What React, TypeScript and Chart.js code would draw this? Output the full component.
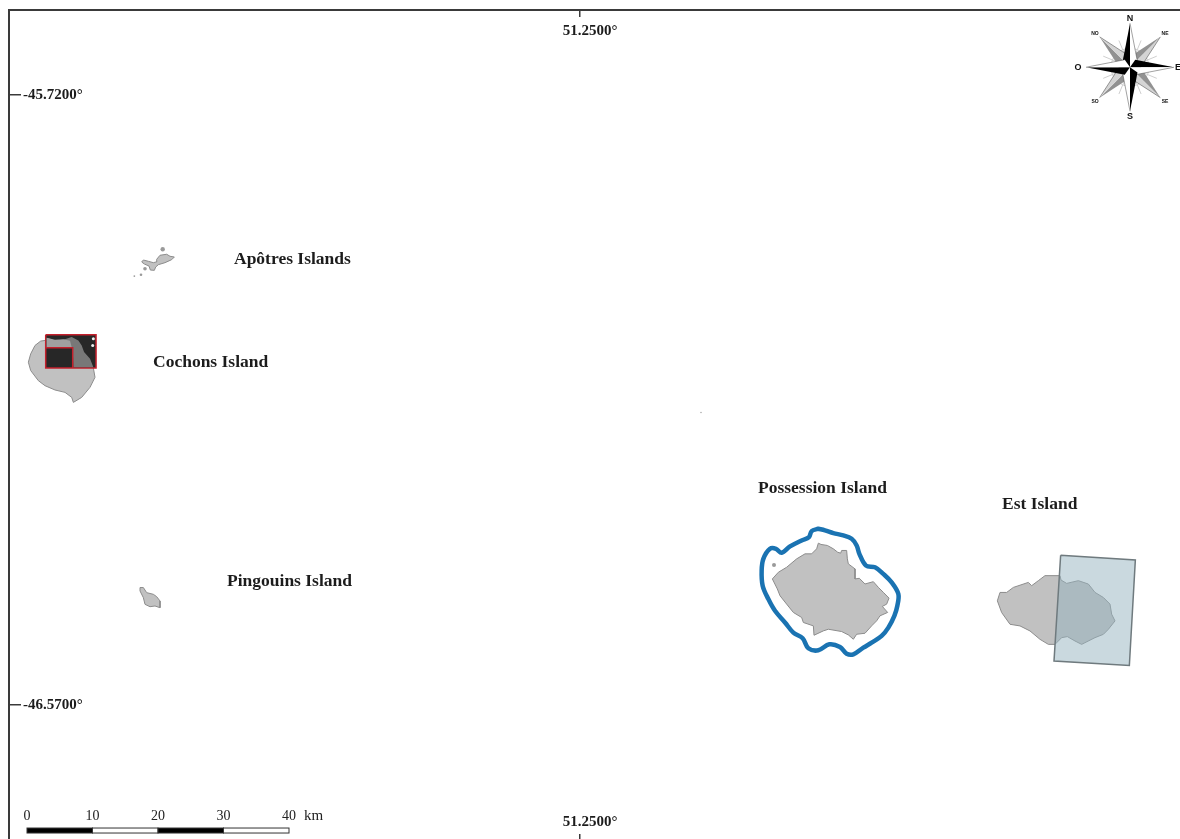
import React, { useEffect, useRef } from 'react'
import { Chart, registerables, type ChartConfiguration, type Plugin } from 'chart.js'

Chart.register(...registerables)

type LonLat = [number, number]

// axis ticks (degrees)
const tickLon = [51.25]
const tickLat = [-45.72, -46.57]

const possessionOutline: LonLat[] = [
  [51.7267, -46.3446], [51.732, -46.3464], [51.7447, -46.3478], [51.7567, -46.3525], [51.7653, -46.3572],
  [51.7713, -46.3586], [51.7733, -46.3548], [51.7833, -46.3548], [51.7847, -46.3665], [51.7867, -46.3735],
  [51.8, -46.3805], [51.8, -46.3945], [51.8087, -46.3936], [51.82, -46.4015], [51.8367, -46.3983],
  [51.8467, -46.4062], [51.8567, -46.4132], [51.868, -46.4212], [51.8633, -46.4296], [51.8547, -46.4328],
  [51.8653, -46.4412], [51.85, -46.4459], [51.8433, -46.4529], [51.8333, -46.4599], [51.82, -46.4702],
  [51.8033, -46.4716], [51.7967, -46.4786], [51.7867, -46.4725], [51.7733, -46.4678], [51.7467, -46.4646],
  [51.7367, -46.4669], [51.718, -46.473], [51.7167, -46.4599], [51.6967, -46.4552], [51.6933, -46.4482],
  [51.6767, -46.4412], [51.6633, -46.4296], [51.65, -46.4179], [51.6447, -46.4085], [51.6347, -46.3945],
  [51.6467, -46.3852], [51.6633, -46.3782], [51.6833, -46.3665], [51.7, -46.3595], [51.7133, -46.3595],
  [51.7233, -46.3525], [51.7267, -46.3446],
]

const possessionBuffer: LonLat[] = [
  [51.7267, -46.3245], [51.74, -46.3268], [51.7567, -46.3306], [51.7767, -46.3338], [51.7933, -46.3385],
  [51.8033, -46.3478], [51.8087, -46.3595], [51.822, -46.3759], [51.84, -46.3782], [51.8567, -46.3875],
  [51.8733, -46.3992], [51.8867, -46.4155], [51.8847, -46.4319], [51.8787, -46.4459], [51.8667, -46.4623],
  [51.8533, -46.4739], [51.8333, -46.4833], [51.8167, -46.4903], [51.7967, -46.4996], [51.7833, -46.4987],
  [51.77, -46.4893], [51.7487, -46.4856], [51.7267, -46.494], [51.7067, -46.4912], [51.6953, -46.4772],
  [51.6767, -46.4693], [51.66, -46.4552], [51.64, -46.4389], [51.6267, -46.4226], [51.6153, -46.4039],
  [51.6133, -46.3829], [51.6167, -46.3665], [51.63, -46.3525], [51.642, -46.3525], [51.6533, -46.3581],
  [51.67, -46.3492], [51.6933, -46.3408], [51.708, -46.3362], [51.7133, -46.3278], [51.7267, -46.3245],
]

const estOutline: LonLat[] = [
  [52.0847, -46.425], [52.09, -46.4133], [52.1033, -46.4133], [52.1167, -46.4063], [52.1467, -46.3993],
  [52.1533, -46.4039], [52.1667, -46.3969], [52.18, -46.3899], [52.21, -46.3899], [52.212, -46.396],
  [52.2233, -46.4007], [52.2467, -46.3969], [52.2667, -46.4016], [52.28, -46.4133], [52.2967, -46.4203],
  [52.31, -46.4296], [52.3133, -46.4436], [52.32, -46.453], [52.3067, -46.4647], [52.2967, -46.4717],
  [52.28, -46.4763], [52.2533, -46.4857], [52.24, -46.481], [52.2247, -46.4749], [52.2133, -46.4763],
  [52.2, -46.4857], [52.1867, -46.4857], [52.17, -46.4787], [52.15, -46.467], [52.13, -46.46],
  [52.11, -46.4577], [52.0933, -46.4413], [52.0847, -46.425],
]

const estFootprint: LonLat[] = [
  [52.2113, -46.3614], [52.3607, -46.368], [52.3487, -46.5151], [52.198, -46.509], [52.2113, -46.3614],
]

const cochonsOutline: LonLat[] = [
  [50.18, -46.062], [50.1714, -46.0629], [50.16, -46.069], [50.1514, -46.0807], [50.1467, -46.0924],
  [50.1514, -46.104], [50.1667, -46.1181], [50.18, -46.1251], [50.2, -46.1311], [50.22, -46.1344],
  [50.2334, -46.1414], [50.2367, -46.1484], [50.2534, -46.1414], [50.27, -46.1274], [50.28, -46.1134],
  [50.2767, -46.1003], [50.2767, -46.062], [50.18, -46.062],
]

const cochonsScene: LonLat[] = [
  [50.1814, -46.0541], [50.2821, -46.0541], [50.2821, -46.1003], [50.1814, -46.1003], [50.1814, -46.0541],
]
const cochonsSceneMask: LonLat[] = [
  [50.1814, -46.0723], [50.2354, -46.0723], [50.2354, -46.1003],
]
const cochonsTerrain: LonLat[] = [
  [50.1834, -46.0583], [50.2, -46.062], [50.2167, -46.0611], [50.2334, -46.0574], [50.2467, -46.062],
  [50.2534, -46.069], [50.2581, -46.0783], [50.2701, -46.0877], [50.2767, -46.0994], [50.2367, -46.0994],
  [50.2354, -46.0714], [50.1834, -46.0714], [50.1834, -46.0583],
]
const cochonsBrightTerrain: LonLat[] = [
  [50.1834, -46.0583], [50.2, -46.0611], [50.2167, -46.0602], [50.23, -46.0625], [50.2334, -46.0714],
  [50.1834, -46.0714], [50.1834, -46.0583],
]
const cochonsSpecks: LonLat[] = [[50.2754, -46.069], [50.2767, -46.0597]]

const apotresOutline: LonLat[] = [
  [50.4034, -45.9489], [50.41, -45.9433], [50.4234, -45.9419], [50.43, -45.9447], [50.4387, -45.9457],
  [50.4334, -45.9494], [50.42, -45.9536], [50.4067, -45.9564], [50.4014, -45.9597], [50.3987, -45.9643],
  [50.3907, -45.9639], [50.388, -45.9583], [50.3787, -45.9555], [50.3734, -45.9527], [50.3767, -45.9499],
  [50.3867, -45.9517], [50.3967, -45.9536], [50.402, -45.9527], [50.4034, -45.9489],
]
const apotresIslets: LonLat[] = [[50.4154, -45.9349], [50.38, -45.962], [50.372, -45.9704], [50.3587, -45.9723]]
const apotresIsletSizes = [2.2, 1.8, 1.3, 0.9]

const pingouinsOutline: LonLat[] = [
  [50.37, -46.4065], [50.3767, -46.4065], [50.3834, -46.4136], [50.3967, -46.4159], [50.4034, -46.4192],
  [50.41, -46.4252], [50.41, -46.4346], [50.4, -46.4322], [50.39, -46.4332], [50.38, -46.4299],
  [50.3767, -46.4206], [50.37, -46.4112], [50.37, -46.4065],
]

const strayIslets: LonLat[] = [[51.638, -46.3749], [51.492, -46.1624]]
const strayIsletSizes = [2, 0.7]

// island labels, anchored at their left end
const islandNames = ['Apôtres Islands', 'Cochons Island', 'Possession Island', 'Est Island', 'Pingouins Island']
const islandNameLon = [50.558, 50.396, 51.606, 52.094, 50.544]
const islandNameLat = [-45.9495, -46.0928, -46.2685, -46.2908, -46.3985]

// scale bar
const scaleKm = [0, 10, 20, 30, 40]
const scaleLonStart = 50.144
const lonPerKm = 0.0131
const scaleLat = -46.7417
const scaleLabelLat = -46.7255

const compassLon = 52.35
const compassLat = -45.6812

const lonMin = 50.108
const lonMax = 52.45
const latMax = -45.6014
const latMin = -46.7584

const SERIF = '"Liberation Serif", serif'
const SANS = '"Liberation Sans", sans-serif'

const xy = (pts: LonLat[]) => pts.map(([x, y]) => ({ x, y }))

const land = (label: string, pts: LonLat[], order = 10) => ({
  label,
  data: xy(pts),
  showLine: true,
  fill: 'shape',
  backgroundColor: '#c1c1c1',
  borderColor: '#8c8c8c',
  borderWidth: 1,
  pointRadius: 0,
  tension: 0,
  order,
})

const zeroPad = (s: any) => {
  s.paddingLeft = s.paddingRight = s.paddingTop = s.paddingBottom = 0
}

function drawCompass(ctx: CanvasRenderingContext2D, cx: number, cy: number) {
  ctx.save()
  ctx.translate(cx, cy)

  ctx.strokeStyle = '#cfcfcf'
  ctx.lineWidth = 1
  ctx.beginPath()
  ctx.arc(0, 0, 19, 0, Math.PI * 2)
  ctx.stroke()
  for (let i = 0; i < 8; i++) {
    const a = Math.PI / 8 + (i * Math.PI) / 4
    ctx.beginPath()
    ctx.moveTo(0, 0)
    ctx.lineTo(Math.cos(a) * 29, Math.sin(a) * 29)
    ctx.stroke()
  }

  const arm = (rot: number, len: number, w: number, a: string, b: string) => {
    ctx.save()
    ctx.rotate(rot)
    ctx.fillStyle = a
    ctx.beginPath()
    ctx.moveTo(0, -len)
    ctx.lineTo(-w, -w * 0.7)
    ctx.lineTo(0, 0)
    ctx.closePath()
    ctx.fill()
    ctx.fillStyle = b
    ctx.beginPath()
    ctx.moveTo(0, -len)
    ctx.lineTo(w, -w * 0.7)
    ctx.lineTo(0, 0)
    ctx.closePath()
    ctx.fill()
    ctx.strokeStyle = '#444'
    ctx.lineWidth = 0.5
    ctx.beginPath()
    ctx.moveTo(0, -len)
    ctx.lineTo(w, -w * 0.7)
    ctx.stroke()
    ctx.restore()
  }
  for (let i = 0; i < 4; i++) arm(Math.PI / 4 + (i * Math.PI) / 2, 43, 8, '#929292', '#d4d4d4')
  for (let i = 0; i < 4; i++) arm((i * Math.PI) / 2, 44, 7.5, '#000', '#fff')

  ctx.fillStyle = '#111'
  ctx.textAlign = 'center'
  ctx.textBaseline = 'middle'
  ctx.font = `bold 9px ${SANS}`
  ctx.fillText('N', 0, -49)
  ctx.fillText('S', 0, 49)
  ctx.fillText('O', -52, 0)
  ctx.fillText('E', 48, 0)
  ctx.font = `bold 5px ${SANS}`
  ctx.fillText('NO', -35, -34)
  ctx.fillText('NE', 35, -34)
  ctx.fillText('SO', -35, 34)
  ctx.fillText('SE', 35, 34)
  ctx.restore()
}

const mapDecor: Plugin = {
  id: 'mapDecor',
  afterDatasetsDraw(chart) {
    const { ctx, scales } = chart
    const x = scales.x
    const y = scales.y
    ctx.save()

    ctx.fillStyle = '#1c1c1c'
    ctx.font = `bold 17.5px ${SERIF}`
    ctx.textAlign = 'left'
    ctx.textBaseline = 'middle'
    islandNames.forEach((name, i) => {
      ctx.fillText(name, x.getPixelForValue(islandNameLon[i]), y.getPixelForValue(islandNameLat[i]))
    })

    // scale bar
    const barY = y.getPixelForValue(scaleLat)
    const labelY = y.getPixelForValue(scaleLabelLat)
    ctx.font = `14px ${SERIF}`
    ctx.textAlign = 'center'
    ctx.fillStyle = '#222'
    scaleKm.forEach((km, i) => {
      const px = x.getPixelForValue(scaleLonStart + km * lonPerKm)
      ctx.fillText(String(km), px, labelY)
      if (i < scaleKm.length - 1) {
        const next = x.getPixelForValue(scaleLonStart + scaleKm[i + 1] * lonPerKm)
        ctx.fillStyle = i % 2 === 0 ? '#000' : '#fff'
        ctx.fillRect(px, barY, next - px, 5)
        ctx.strokeStyle = '#333'
        ctx.lineWidth = 1
        ctx.strokeRect(px, barY, next - px, 5)
        ctx.fillStyle = '#222'
      }
    })
    ctx.font = `15px ${SERIF}`
    ctx.textAlign = 'left'
    ctx.fillText('km', x.getPixelForValue(scaleLonStart + 40 * lonPerKm) + 15, labelY)

    drawCompass(ctx, x.getPixelForValue(compassLon), y.getPixelForValue(compassLat))
    ctx.restore()
  },
}

const axisInk = '#3a3a3a'
const tickFont = { family: SERIF, size: 15, weight: 'bold' as const }

const lonAxis = (position: 'top' | 'bottom', tickLength: number, padding: number, height: number) => ({
  type: 'linear' as const,
  position,
  min: lonMin,
  max: lonMax,
  afterBuildTicks: (axis: any) => { axis.ticks = tickLon.map(value => ({ value })) },
  afterFit: (s: any) => { s.height = height; zeroPad(s) },
  grid: { drawOnChartArea: false, tickLength, color: axisInk, lineWidth: 1.5 },
  ticks: {
    autoSkip: false,
    maxRotation: 0,
    mirror: true, // keeps the label from being clipped to the thin axis box
    color: '#1c1c1c',
    font: tickFont,
    padding,
    labelOffset: 10,
    callback: (v: any) => `${Number(v).toFixed(4)}°`,
  },
})

export default function App() {
  const canvasRef = useRef<HTMLCanvasElement>(null)

  useEffect(() => {
    if (!canvasRef.current) return
    const cfg: ChartConfiguration<'scatter'> = {
      type: 'scatter',
      data: {
        datasets: [
          {
            label: 'Est footprint',
            data: xy(estFootprint),
            showLine: true,
            fill: 'shape',
            backgroundColor: 'rgba(150,180,192,0.5)',
            borderColor: '#6f7a7e',
            borderWidth: 1.5,
            pointRadius: 0,
            order: 1,
          },
          land('Est', estOutline, 5),
          land('Possession', possessionOutline, 5),
          {
            label: 'Possession buffer',
            data: xy(possessionBuffer),
            showLine: true,
            fill: false,
            borderColor: '#1a73b2',
            borderWidth: 4.5,
            borderCapStyle: 'round',
            borderJoinStyle: 'round',
            tension: 0.35,
            pointRadius: 0,
            order: 2,
          },
          land('Cochons', cochonsOutline, 8),
          land('Apôtres', apotresOutline, 5),
          land('Pingouins', pingouinsOutline, 5),
          {
            label: 'Scene',
            data: xy(cochonsScene),
            showLine: true,
            fill: 'shape',
            backgroundColor: '#272727',
            borderColor: '#c4202c',
            borderWidth: 1.5,
            pointRadius: 0,
            order: 7,
          },
          {
            label: 'Terrain',
            data: xy(cochonsTerrain),
            showLine: true,
            fill: 'shape',
            backgroundColor: '#787878',
            borderWidth: 0,
            pointRadius: 0,
            order: 6,
          },
          {
            label: 'Bright terrain',
            data: xy(cochonsBrightTerrain),
            showLine: true,
            fill: 'shape',
            backgroundColor: '#a0a0a0',
            borderWidth: 0,
            pointRadius: 0,
            order: 5,
          },
          {
            label: 'Scene mask',
            data: xy(cochonsSceneMask),
            showLine: true,
            fill: false,
            borderColor: '#c4202c',
            borderWidth: 1.5,
            pointRadius: 0,
            order: 4,
          },
          {
            label: 'Specks',
            data: xy(cochonsSpecks),
            showLine: false,
            pointRadius: 1.5,
            pointBackgroundColor: '#eee',
            pointBorderWidth: 0,
            order: 3,
          },
          {
            label: 'Apôtres islets',
            data: xy(apotresIslets),
            showLine: false,
            pointRadius: apotresIsletSizes,
            pointBackgroundColor: '#9a9a9a',
            pointBorderWidth: 0,
            order: 3,
          },
          {
            label: 'Islets',
            data: xy(strayIslets),
            showLine: false,
            pointRadius: strayIsletSizes,
            pointBackgroundColor: '#9a9a9a',
            pointBorderWidth: 0,
            order: 3,
          },
        ] as any,
      },
      options: {
        responsive: true,
        maintainAspectRatio: false,
        animation: false,
        layout: { padding: 0 },
        plugins: { legend: { display: false }, tooltip: { enabled: false } },
        scales: {
          x: {
            ...lonAxis('bottom', -6, 9, 0),
            border: { display: false },
          },
          x2: {
            ...lonAxis('top', -7, 12, 10),
            border: { color: axisInk, width: 2 },
          },
          y: {
            type: 'linear',
            position: 'left',
            min: latMin,
            max: latMax,
            afterBuildTicks: (axis: any) => { axis.ticks = tickLat.map(value => ({ value })) },
            afterFit: (s: any) => { s.width = 9; zeroPad(s) },
            border: { color: axisInk, width: 2 },
            grid: { drawOnChartArea: false, tickLength: -12, color: axisInk, lineWidth: 1.5 },
            ticks: {
              autoSkip: false,
              mirror: true,
              padding: 14,
              color: '#1c1c1c',
              font: tickFont,
              callback: (v: any) => `${Number(v).toFixed(4)}°`,
            },
          },
        } as any,
      },
      plugins: [mapDecor],
    }
    const chart = new Chart(canvasRef.current, cfg)
    return () => { chart.destroy() }
  }, [])

  // the chart keeps a few px of overflow room on its right and bottom, so it is
  // a little larger than the page and the frame runs off the edges as in the map
  return (
    <div style={{ position: 'fixed', left: 0, top: 0, width: 1180, height: 839, overflow: 'hidden', background: '#fff' }}>
      <div style={{ position: 'relative', width: 1184, height: 844 }}>
        <canvas ref={canvasRef} />
      </div>
    </div>
  )
}
